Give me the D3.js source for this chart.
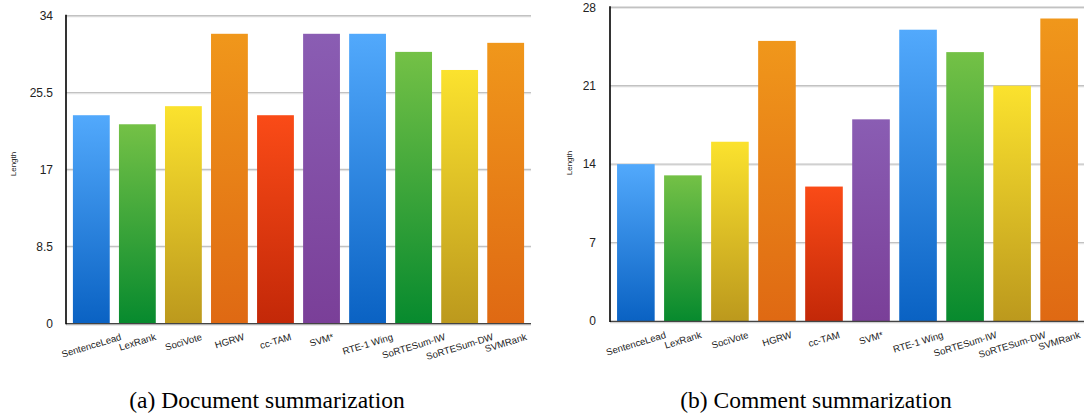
<!DOCTYPE html>
<html><head><meta charset="utf-8">
<script src="https://cdn.jsdelivr.net/npm/d3@7/dist/d3.min.js"></script>
<style>html,body{margin:0;padding:0;background:#fff;}svg{display:block;}</style>
</head><body>
<svg id="c" width="1084" height="416"></svg>
<script>
const categories = ["SentenceLead","LexRank","SociVote","HGRW","cc-TAM","SVM*","RTE-1 Wing","SoRTESum-IW","SoRTESum-DW","SVMRank"];
const docValues = [23, 22, 24, 32, 23, 32, 32, 30, 28, 31];
const commentValues = [14, 13, 16, 25, 12, 18, 26, 24, 21, 27];
const docTicks = [0, 8.5, 17, 25.5, 34];
const commentTicks = [0, 7, 14, 21, 28];
const captions = ["(a) Document summarization", "(b) Comment summarization"];
const palette = [["#52a9fc","#0a62c3"],["#74c146","#078a2e"],["#fbe22e","#bc991d"],["#f0971b","#df6913"],["#fa4b17","#c32808"],["#8a5db3","#7a3f98"]];
const colorIdx = [0,1,2,3,4,5,0,1,2,3];

const svg = d3.select("#c");
const defs = svg.append("defs");
palette.forEach((p,i)=>{
  const g = defs.append("linearGradient").attr("id","g"+i).attr("x1",0).attr("y1",0).attr("x2",0).attr("y2",1);
  g.append("stop").attr("offset","0%").attr("stop-color",p[0]);
  g.append("stop").attr("offset","100%").attr("stop-color",p[1]);
});

function panel(opt){
  const x = d3.scaleBand().domain(categories).range([opt.x0, opt.x1]).paddingInner(0.2).paddingOuter(0.15);
  const y = d3.scaleLinear().domain([0, opt.ticks[opt.ticks.length-1]]).range([opt.y0, opt.yTop]);
  const g = svg.append("g");
  opt.ticks.slice(1).forEach(t=>{
    g.append("line").attr("x1",opt.x0).attr("x2",opt.x1).attr("y1",y(t)+1.2).attr("y2",y(t)+1.2).attr("stroke","#e8e8e8").attr("stroke-width",1);
    g.append("line").attr("x1",opt.x0).attr("x2",opt.x1).attr("y1",y(t)).attr("y2",y(t)).attr("stroke","#c2c2c2").attr("stroke-width",1.4);
  });
  const yAxis = d3.axisLeft(y).tickValues(opt.ticks).tickSize(0).tickPadding(0).tickFormat(d=>String(d));
  const ya = g.append("g").attr("transform",`translate(${opt.labelX},0)`).call(yAxis);
  ya.select(".domain").remove();
  ya.selectAll("text").attr("font-family","'Liberation Sans', Arial, Helvetica, sans-serif").attr("font-size",12).attr("fill","#222");
  g.selectAll("rect.bar").data(opt.values).enter().append("rect")
    .attr("x",(d,i)=>x(categories[i])).attr("width",x.bandwidth())
    .attr("y",d=>y(d)).attr("height",d=>y(0)-y(d))
    .attr("fill",(d,i)=>`url(#g${colorIdx[i]})`);
  g.append("line").attr("x1",opt.x0).attr("x2",opt.x1).attr("y1",y(0)+0.5).attr("y2",y(0)+0.5).attr("stroke","#444").attr("stroke-width",1.6);
  g.append("line").attr("x1",opt.x0).attr("x2",opt.x1).attr("y1",y(0)+1.8).attr("y2",y(0)+1.8).attr("stroke","#cfcfcf").attr("stroke-width",0.8);
  g.append("line").attr("x1",opt.x0).attr("x2",opt.x0).attr("y1",opt.yTop-1).attr("y2",y(0)+1).attr("stroke","#000").attr("stroke-width",1.6);
  const ang = 17, rad = ang*Math.PI/180, h = 9;
  categories.forEach((c,i)=>{
    const t = g.append("text").text(c)
      .attr("font-family","'Liberation Sans', Arial, Helvetica, sans-serif").attr("font-size",9.6).attr("fill","#222")
      .attr("text-anchor","middle").attr("dominant-baseline","central");
    const w = t.node().getComputedTextLength();
    const cx = x(c) + x.bandwidth()/2;
    const cy = opt.labelTop + (w*Math.sin(rad) + h*Math.cos(rad))/2;
    t.attr("transform",`translate(${cx},${cy}) rotate(${-ang})`);
  });
  g.append("text").text("Length").attr("font-family","'Liberation Sans', Arial, Helvetica, sans-serif").attr("font-size",8).attr("fill","#222")
    .attr("text-anchor","middle").attr("dominant-baseline","central")
    .attr("transform",`translate(${opt.titleX},${opt.titleY}) rotate(-90)`);
  g.append("text").text(opt.caption).attr("font-family","'Liberation Serif','Times New Roman',serif").attr("font-size",23.5).attr("fill","#000")
    .attr("text-anchor","middle").attr("x",opt.capX).attr("y",408);
}

panel({x0:66, x1:531, y0:323.3, yTop:15.7, values:docValues, ticks:docTicks, labelX:53, labelTop:332, titleX:13.5, titleY:164, caption:captions[0], capX:267});
panel({x0:610, x1:1085, y0:321, yTop:7.3, values:commentValues, ticks:commentTicks, labelX:596, labelTop:330, titleX:569, titleY:163, caption:captions[1], capX:816});
</script>
</body></html>
